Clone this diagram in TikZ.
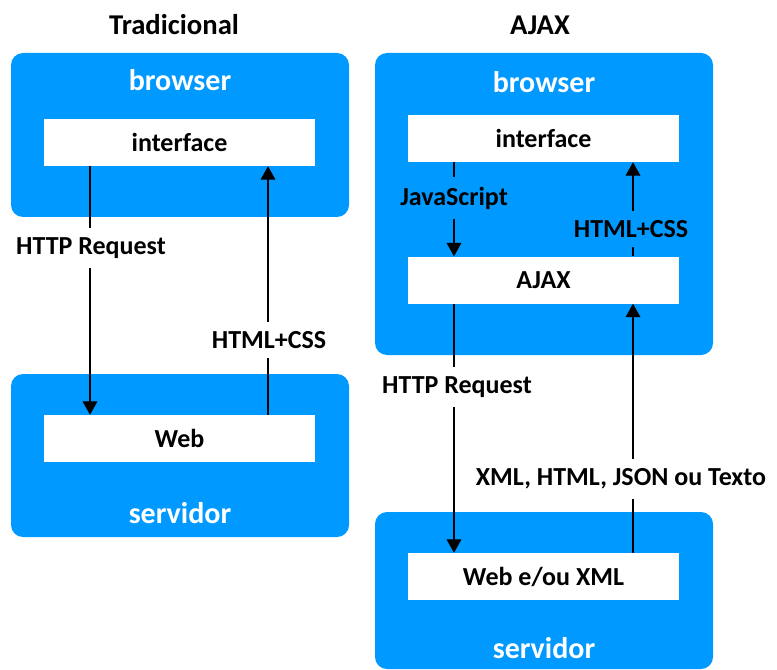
\documentclass[tikz,border=0pt]{standalone}
\usepackage{fontspec}
\setmainfont{Carlito}
\usepackage{tikz}
\usetikzlibrary{arrows.meta, positioning}
\definecolor{ajaxBlue}{RGB}{0,153,255}

\tikzset{
	outerbox/.style={fill=ajaxBlue, rounded corners=9pt, minimum width=253.5pt, inner sep=0pt},
	innerbox/.style={fill=white, minimum width=203.25pt, minimum height=35.25pt, inner sep=0pt, font=\fontsize{19.5}{22}\selectfont\bfseries},
	boxtitle/.style={text=white, font=\fontsize{22.5}{26}\selectfont\bfseries},
	coltitle/.style={font=\fontsize{21.5}{25}\selectfont\bfseries},
	flowlabel/.style={inner xsep=0pt, inner ysep=7pt, font=\fontsize{19.5}{22}\selectfont\bfseries},
	flow/.style={line width=0.8pt},
	flowarrow/.style={line width=0.8pt, -{Triangle[width=11pt,length=10pt]}}
}

\begin{document}
\begin{tikzpicture}[x=0.75pt, y=-0.75pt]
	\useasboundingbox (0,0) rectangle (777,670);
	% titles
	\node[coltitle] (tTrad) at (174,25) {Tradicional};
	\node[coltitle] (tAjax) at (540,25) {AJAX};

	% tradicional
	\node[outerbox, minimum height=123pt] (lBrowser) at (180,135) {};
	\node[outerbox, minimum height=122.25pt] (lServer) at (180,455.5) {};
	\node[boxtitle] (lBrowserTxt) at (180,80) {browser};
	\node[boxtitle] (lServerTxt) at (180,513) {servidor};
	\node[innerbox] (lIface) at (179.5,142.5) {interface};
	\node[innerbox] (lWeb) at (179.5,438.5) {Web};

	\coordinate (lDown) at (90,0);
	\coordinate (lUp) at (268,0);
	\node[flowlabel] (lReq) at (91,248) {HTTP Request};
	\node[flowlabel] (lHtml) at (269,340) {HTML+CSS};
	\draw[flow] (lIface.south -| lDown) -- (lReq.north -| lDown);
	\draw[flowarrow] (lReq.south -| lDown) -- (lWeb.north -| lDown);
	\draw[flow] (lWeb.north -| lUp) -- (lHtml.south -| lUp);
	\draw[flowarrow] (lHtml.north -| lUp) -- (lIface.south -| lUp);

	% ajax
	\node[outerbox, minimum height=226.5pt] (rBrowser) at (544,204) {};
	\node[outerbox, minimum height=117.75pt] (rServer) at (544,590.5) {};
	\node[boxtitle] (rBrowserTxt) at (544,82) {browser};
	\node[boxtitle] (rServerTxt) at (544,648) {servidor};
	\node[innerbox] (rIface) at (543.5,138.5) {interface};
	\node[innerbox] (rAjax) at (543.5,280) {AJAX};
	\node[innerbox] (rWeb) at (543.5,576.5) {Web e/ou XML};

	\coordinate (rDown) at (454,0);
	\coordinate (rUp) at (633,0);
	\node[flowlabel] (rJs) at (454,198) {JavaScript};
	\node[flowlabel] (rHtml) at (631,229) {HTML+CSS};
	\node[flowlabel] (rReq) at (457,387) {HTTP Request};
	\node[flowlabel] (rXml) at (621,479) {XML, HTML, JSON ou Texto};
	\draw[flow] (rIface.south -| rDown) -- (rJs.north -| rDown);
	\draw[flowarrow] (rJs.south -| rDown) -- (rAjax.north -| rDown);
	\draw[flow] (rAjax.north -| rUp) -- (rHtml.south -| rUp);
	\draw[flowarrow] (rHtml.north -| rUp) -- (rIface.south -| rUp);
	\draw[flow] (rAjax.south -| rDown) -- (rReq.north -| rDown);
	\draw[flowarrow] (rReq.south -| rDown) -- (rWeb.north -| rDown);
	\draw[flow] (rWeb.north -| rUp) -- (rXml.south -| rUp);
	\draw[flowarrow] (rXml.north -| rUp) -- (rAjax.south -| rUp);
\end{tikzpicture}
\end{document}
